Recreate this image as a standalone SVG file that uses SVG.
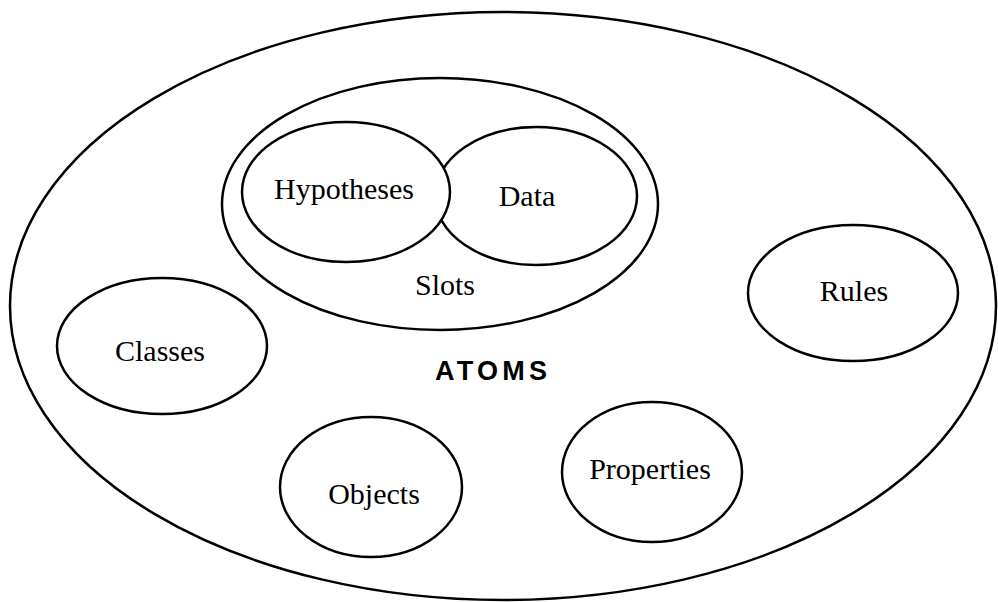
<svg xmlns="http://www.w3.org/2000/svg" width="998" height="602" viewBox="0 0 998 602">
<style>
.e{fill:#fff;stroke:#000;stroke-width:2.5}
.t{font-family:"Liberation Serif","Times New Roman",serif;font-size:30px;fill:#000;text-anchor:middle}
.b{font-family:"Liberation Sans",Arial,sans-serif;font-size:27px;font-weight:bold;fill:#000;text-anchor:middle}
</style>
<rect width="998" height="602" fill="#fff"/>
<g id="atoms">
<ellipse class="e" cx="503" cy="306" rx="493" ry="294"/>
<text class="b" x="491" y="380" textLength="112" lengthAdjust="spacing">ATOMS</text>
</g>
<g id="slots">
<ellipse class="e" cx="440" cy="204" rx="218" ry="126"/>
<text class="t" x="445" y="295">Slots</text>
</g>
<g id="data">
<ellipse class="e" cx="536" cy="196" rx="101" ry="69"/>
<text class="t" x="527" y="206">Data</text>
</g>
<g id="hypotheses">
<ellipse class="e" cx="346" cy="192" rx="104" ry="70"/>
<text class="t" x="344" y="199">Hypotheses</text>
</g>
<g id="classes">
<ellipse class="e" cx="162" cy="346" rx="105" ry="68"/>
<text class="t" x="160" y="361">Classes</text>
</g>
<g id="rules">
<ellipse class="e" cx="853" cy="293" rx="105" ry="68"/>
<text class="t" x="854" y="301">Rules</text>
</g>
<g id="objects">
<ellipse class="e" cx="371" cy="487" rx="91" ry="70"/>
<text class="t" x="374" y="504">Objects</text>
</g>
<g id="properties">
<ellipse class="e" cx="652" cy="472" rx="90" ry="70"/>
<text class="t" x="650" y="479">Properties</text>
</g>
<g id="connectors"/>
</svg>
